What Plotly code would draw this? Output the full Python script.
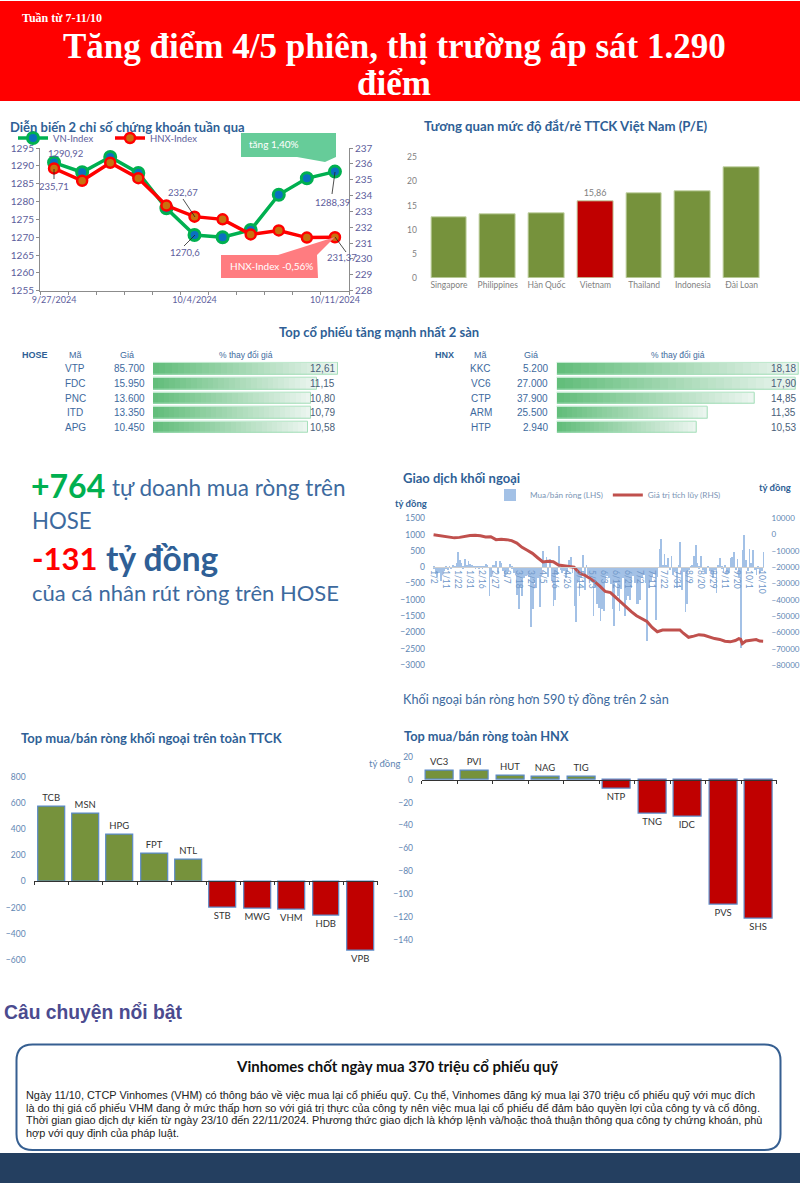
import plotly.graph_objects as go

W, H = 800, 1183

# Fonts
CAL = "Lato, 'Noto Sans', sans-serif"
ARIAL = "'Liberation Sans', Arial, sans-serif"
SERIF = "'Liberation Serif', serif"

BLUE_TITLE = '#2f5f96'
BLUE_TEXT = '#3d6a9e'
AXIS_BLUE = '#5f86b3'

# Index chart data
sessions = ['9/27', '9/30', '10/1', '10/2', '10/3', '10/4', '10/7', '10/8', '10/9', '10/10', '10/11']
session_labels = ['9/27/2024', '', '', '', '', '10/4/2024', '', '', '', '', '10/11/2024']
vn_index = [1290.92, 1288.2, 1292.5, 1288.0, 1278.1, 1270.6, 1270.0, 1272.0, 1281.9, 1286.5, 1288.39]
hnx_index = [235.71, 234.93, 236.07, 235.1, 233.37, 232.67, 232.5, 231.55, 231.8, 231.35, 231.37]

# P/E data
pe_countries = ['Singapore', 'Philippines', 'Hàn Quốc', 'Vietnam', 'Thailand', 'Indonesia', 'Đài Loan']
pe_values = [12.6, 13.2, 13.3, 15.86, 17.6, 18.0, 23.0]
pe_labels = ['', '', '', '15,86', '', '', '']

# Top gainers tables
hose_codes = ['VTP', 'FDC', 'PNC', 'ITD', 'APG']
hose_prices = ['85.700', '15.950', '13.600', '13.350', '10.450']
hose_changes = [12.61, 11.15, 10.80, 10.79, 10.58]
hnx_codes = ['KKC', 'VC6', 'CTP', 'ARM', 'HTP']
hnx_prices = ['5.200', '27.000', '37.900', '25.500', '2.940']
hnx_changes = [18.18, 17.90, 14.85, 11.35, 10.53]

# Foreign flow data, one bar per session
flow_values = [
    -60, -220, -310, -180, -420, -240, -120, -60, -110, -40,
    -70, 60, -30, 130, 450, 220, 130, -50, 230, 60,
    170, 80, 40, -20, -60, -30, -50, -20, -60, -30,
    100, 60, -880, -320, 60, 30, 190, -180, 190, 110,
    -120, -300, -210, -160, 90, -60, -190, -250, -850, -1280,
    -620, -900, -330, -280, -260, -310, -1850, -1300, -480, -660,
    -350, -1230, -280, 500, 120, 310, -310, 230, -420, -1200,
    -1000, -250, 630, -90, -180, -120, -340, -160, 200, 300,
    -200, -1200, -1680, -420, -900, -350, 350, -720, 50, -260,
    -330, -470, -1500, -620, -1150, -1250, -1650, -1300, -1350, -460,
    -280, -340, -520, -1280, -1820, -480, -890, -1350, -670, -340,
    -1500, -1030, -880, -1000, -640, -280, -480, -1150, -1150, -1020,
    -350, -260, -480, -2270, -640, -420, -310, -220, -1620, -320,
    550, 850, 60, 400, 40, 270, -90, 340, -250, -120,
    -650, 30, 750, -700, -150, -1370, -1150, -90, 20, 40,
    320, 680, 120, -60, 320, -80, -120, -210, -40, -140,
    -220, -340, -110, -800, 30, 260, -60, -150, 40, -220,
    -180, 260, 310, 470, -90, 250, -320, -2480, 520, 970,
    220, -120, 560, 130, 520, -90, -240, -60, -180, -120,
    470,
]
flow_tick_pos = [0, 7, 14, 21, 28, 35, 42, 49, 56, 63, 70, 77, 84, 91, 98, 105, 112, 119, 126, 133, 140, 147, 154, 161,
                 168, 175, 182, 189]
flow_tick_text = ['1/2', '1/11', '1/22', '1/31', '2/16', '2/27', '3/7', '3/18', '3/27', '4/5', '4/16', '4/26', '5/14',
                  '5/23', '6/3', '6/12', '6/21', '7/2', '7/11', '7/22', '7/31', '8/9', '8/20', '8/29', '9/11', '9/20',
                  '10/1', '10/10']
cum_sessions = [0, 3, 6, 9, 12, 15, 18, 21, 24, 27, 30, 33, 36, 39, 42, 45, 48, 51, 54, 57, 60, 63, 66, 69, 72, 75, 78,
                81, 84, 87, 90, 93, 96, 99, 102, 105, 108, 111, 114, 117, 120, 123, 126, 129, 132, 135, 138, 142, 144,
                147, 150, 153, 156, 159, 162, 165, 168, 171, 174, 176, 177, 178, 180, 182, 184, 186, 188, 190]
cum_values = [-100, -500, -1200, -1600, -2000, -1700, -1100, -500, -400, -700, -1500, -1300, -3100, -2800, -3100, -3700,
              -5200, -7800, -9600, -11500, -14200, -16800, -16400, -16700, -18700, -19200, -19500, -20000, -23500,
              -24800, -26800, -29000, -31800, -34900, -35600, -38500, -42000, -44300, -47300, -49800, -51800, -53300,
              -57000, -59600, -58600, -58500, -58400, -58500, -60500, -63000, -62300, -61400, -61800, -62800, -63800,
              -64300, -65400, -65800, -65000, -63800, -64200, -66900, -65300, -65000, -64500, -64400, -65300, -65400]

# Top net buy/sell data
market_codes = ['TCB', 'MSN', 'HPG', 'FPT', 'NTL', 'STB', 'MWG', 'VHM', 'HDB', 'VPB']
market_values = [570, 517, 354, 209, 168, -198, -206, -214, -260, -527]
hnx_net_codes = ['VC3', 'PVI', 'HUT', 'NAG', 'TIG', 'NTP', 'TNG', 'IDC', 'PVS', 'SHS']
hnx_net_values = [8, 7.5, 3, 2.5, 2.5, -8, -30, -32, -109, -121]

story_lines = [
    'Ngày 11/10, CTCP Vinhomes (VHM) có thông báo về việc mua lại cổ phiếu quỹ. Cụ thể, Vinhomes đăng ký mua lại 370 triệu cổ phiếu quỹ với mục đích',
    'là do thị giá cổ phiếu VHM đang ở mức thấp hơn so với giá trị thực của công ty nên việc mua lại cổ phiếu để đảm bảo quyền lợi của công ty và cổ đông.',
    'Thời gian giao dịch dự kiến từ ngày 23/10 đến 22/11/2024. Phương thức giao dịch là khớp lệnh và/hoặc thoả thuận thông qua công ty chứng khoán, phù',
    'hợp với quy định của pháp luật.',
]


# Page pixels to paper coordinates
def px(x):
    return x / W


def py(y):
    return 1 - y / H


def dom_x(a, b):
    return [px(a), px(b)]


def dom_y(top, bottom):
    return [py(bottom), py(top)]


annotations = []
shapes = []


def txt(x, y, text, size=10, color=BLUE_TEXT, font=CAL, anchor='left', bold=False):
    annotations.append(dict(
        x=px(x), y=py(y), xref='paper', yref='paper', text=f'<b>{text}</b>' if bold else text,
        showarrow=False, xanchor=anchor, yanchor='middle', borderpad=0,
        font=dict(family=font, size=size, color=color)
    ))


def rect(x0, y0, x1, y1, color):
    shapes.append(dict(type='rect', xref='paper', yref='paper', x0=px(x0), x1=px(x1), y0=py(y0), y1=py(y1),
                       fillcolor=color, line=dict(width=0), layer='below'))


def poly(points, color):
    path = 'M ' + ' L '.join(f'{px(a):.5f} {py(b):.5f}' for a, b in points) + ' Z'
    shapes.append(dict(type='path', xref='paper', yref='paper', path=path, fillcolor=color, line=dict(width=0)))


def leader(x0, y0, x1, y1):
    shapes.append(dict(type='line', xref='paper', yref='paper', x0=px(x0), x1=px(x1), y0=py(y0), y1=py(y1),
                       line=dict(color='#222222', width=0.8)))


fig = go.Figure()

# Index lines
fig.add_trace(go.Scatter(
    x=sessions, y=vn_index, name='VN-Index', mode='lines+markers', xaxis='x', yaxis='y',
    line=dict(color='#00b050', width=3.5),
    marker=dict(size=11, color='#0a70c0', line=dict(color='#00b050', width=3))
))
fig.add_trace(go.Scatter(
    x=sessions, y=hnx_index, name='HNX-Index', mode='lines+markers', xaxis='x', yaxis='y2',
    line=dict(color='#ff0000', width=3.5),
    marker=dict(size=10, color='#c8710f', line=dict(color='#ff0000', width=2.5))
))

# P/E bars
fig.add_trace(go.Bar(
    x=pe_countries, y=pe_values, xaxis='x2', yaxis='y3', width=0.73, showlegend=False,
    marker=dict(color=['#c00000' if c == 'Vietnam' else '#76923c' for c in pe_countries],
                line=dict(color='#c3d3a5', width=1)),
    text=pe_labels, textposition='outside', cliponaxis=False,
    textfont=dict(family=CAL, size=9, color='#7f7f7f')
))


# Data bars with a fading green fill, cut into thin steps along each value
def add_data_bars(codes, changes, xaxis, yaxis, steps=30):
    ys, bases, widths, colors = [], [], [], []
    for code, value in zip(codes, changes):
        for i in range(steps):
            t = i / (steps - 1)
            ys.append(code)
            bases.append(value * i / steps)
            widths.append(value / steps)
            colors.append(f'rgb({int(99 + t * 136)},{int(190 + t * 55)},{int(123 + t * 116)})')
    fig.add_trace(go.Bar(
        y=ys, x=widths, base=bases, orientation='h', xaxis=xaxis, yaxis=yaxis, width=0.8, showlegend=False,
        marker=dict(color=colors, line=dict(width=0))
    ))
    fig.add_trace(go.Bar(
        y=codes, x=changes, orientation='h', xaxis=xaxis, yaxis=yaxis, width=0.8, showlegend=False,
        marker=dict(color='rgba(0,0,0,0)', line=dict(color='#a5dfba', width=1))
    ))


add_data_bars(hose_codes, hose_changes, 'x3', 'y4')
add_data_bars(hnx_codes, hnx_changes, 'x4', 'y5')

# Foreign flows
fig.add_trace(go.Bar(
    x=list(range(len(flow_values))), y=flow_values, name='Mua/bán ròng (LHS)', xaxis='x5', yaxis='y6', width=0.42,
    legend='legend2', marker=dict(color='#a3c1e6', line=dict(width=0))
))
fig.add_trace(go.Scatter(
    x=cum_sessions, y=cum_values, name='Giá trị tích lũy (RHS)', mode='lines', xaxis='x5', yaxis='y7',
    legend='legend2', line=dict(color='#c0504d', width=3)
))

# Top net buy/sell bars
fig.add_trace(go.Bar(
    x=market_codes, y=market_values, xaxis='x6', yaxis='y8', width=0.78, showlegend=False,
    marker=dict(color=['#76923c' if v > 0 else '#c00000' for v in market_values],
                line=dict(color='#5b8ac8', width=1.2)),
    text=market_codes, textposition='outside', cliponaxis=False,
    textfont=dict(family=CAL, size=9.5, color='#333333')
))
fig.add_trace(go.Bar(
    x=hnx_net_codes, y=hnx_net_values, xaxis='x7', yaxis='y9', width=0.78, showlegend=False,
    marker=dict(color=['#76923c' if v > 0 else '#c00000' for v in hnx_net_values],
                line=dict(color='#5b8ac8', width=1.2)),
    text=hnx_net_codes, textposition='outside', cliponaxis=False,
    textfont=dict(family=CAL, size=9.5, color='#333333')
))

# Header and footer blocks
rect(0, 1, 800, 101, '#ff0000')
rect(0, 1153, 800, 1183, '#243f60')
txt(21, 18, 'Tuần từ 7-11/10', size=12, color='white', font=SERIF, bold=True)
txt(394, 46, 'Tăng điểm 4/5 phiên, thị trường áp sát 1.290', size=35, color='white', font=SERIF, anchor='center', bold=True)
txt(394, 83, 'điểm', size=35, color='white', font=SERIF, anchor='center', bold=True)

# Section titles
txt(9, 127, 'Diễn biến 2 chỉ số chứng khoán tuần qua', size=13, color=BLUE_TITLE, bold=True)
txt(423, 126, 'Tương quan mức độ đắt/rẻ TTCK Việt Nam (P/E)', size=13.2, color=BLUE_TITLE, bold=True)
txt(379, 332, 'Top cổ phiếu tăng mạnh nhất 2 sàn', size=13, color=BLUE_TITLE, anchor='center', bold=True)
txt(402, 478, 'Giao dịch khối ngoại', size=13, color=BLUE_TITLE, bold=True)
txt(20, 738, 'Top mua/bán ròng khối ngoại trên toàn TTCK', size=13, color=BLUE_TITLE, bold=True)
txt(403, 736, 'Top mua/bán ròng toàn HNX', size=12.8, color=BLUE_TITLE, bold=True)

# Callouts on the index chart
poly([(241, 133), (336, 133), (336, 157), (325, 162), (297, 157), (241, 157)], '#66cc99')
poly([(221, 255), (278, 255), (335, 237), (317, 255), (318, 278), (221, 278)], '#ff7c80')
txt(248, 144, 'tăng 1,40%', size=10, color='white')
txt(229, 266, 'HNX-Index -0,56%', size=10, color='white')

# Value labels on the index chart
LABEL = '#5d5d9c'
txt(65, 153, '1290,92', size=9.5, color=LABEL, anchor='center')
txt(54, 187, '235,71', size=9.5, color=LABEL, anchor='center')
txt(183, 192, '232,67', size=9.5, color=LABEL, anchor='center')
txt(185, 253, '1270,6', size=9.5, color=LABEL, anchor='center')
txt(332, 202, '1288,39', size=9.5, color=LABEL, anchor='center')
txt(342, 257, '231,37', size=9.5, color=LABEL, anchor='center')
leader(54, 169, 54, 179)
leader(183, 199, 195, 217)
leader(184, 246, 195, 235)
leader(332, 194, 335, 172)
leader(346, 252, 335, 237)

# Table headers
txt(35, 355, 'HOSE', size=9, color=BLUE_TITLE, font=ARIAL, anchor='center', bold=True)
txt(75, 355, 'Mã', size=9, font=ARIAL, anchor='center')
txt(127, 355, 'Giá', size=9, font=ARIAL, anchor='center')
txt(246, 355, '% thay đổi giá', size=8.5, font=ARIAL, anchor='center')
txt(444, 355, 'HNX', size=9, color=BLUE_TITLE, font=ARIAL, anchor='center', bold=True)
txt(481, 355, 'Mã', size=9, font=ARIAL, anchor='center')
txt(531, 355, 'Giá', size=9, font=ARIAL, anchor='center')
txt(678, 355, '% thay đổi giá', size=8.5, font=ARIAL, anchor='center')

# Table rows
for codes, prices, changes, yref, code_x, price_x, value_x in [
    (hose_codes, hose_prices, hose_changes, 'y4', 75, 147, 337),
    (hnx_codes, hnx_prices, hnx_changes, 'y5', 481, 550, 798),
]:
    for code, price, change in zip(codes, prices, changes):
        row_font = dict(family=ARIAL, size=10, color=BLUE_TEXT)
        annotations.append(dict(x=px(code_x), y=code, xref='paper', yref=yref, text=code, showarrow=False,
                                xanchor='center', font=row_font))
        annotations.append(dict(x=px(price_x), y=code, xref='paper', yref=yref, text=price, showarrow=False,
                                xanchor='right', font=row_font))
        annotations.append(dict(x=px(value_x), y=code, xref='paper', yref=yref, text=f'{change:.2f}'.replace('.', ','),
                                showarrow=False, xanchor='right', font=dict(family=ARIAL, size=10, color='#4a5f7a')))

# Big numbers on the left
txt(30, 486, '+764', size=32, color='#00b050', bold=True)
txt(111, 488, 'tự doanh mua ròng trên', size=22.5, color=BLUE_TEXT)
txt(31, 520, 'HOSE', size=22.2, color=BLUE_TEXT)
txt(31, 558, '-131', size=31, color='#ff0000', bold=True)
txt(105, 558, 'tỷ đồng', size=33.5, color=BLUE_TITLE, bold=True)
txt(31, 592, 'của cá nhân rút ròng trên HOSE', size=22, color=BLUE_TEXT)

# Small notes around the flow charts
txt(394, 503, 'tỷ đồng', size=9.5, color=BLUE_TITLE, bold=True)
txt(758, 487, 'tỷ đồng', size=9.5, color=BLUE_TITLE, bold=True)
txt(402, 699, 'Khối ngoại bán ròng hơn 590 tỷ đồng trên 2 sàn', size=12.7, color=BLUE_TEXT)
txt(368, 763, 'tỷ đồng', size=9.5, color=AXIS_BLUE)

# Story box
txt(3, 1012, 'Câu chuyện nổi bật', size=19.3, color='#4b4b8f', font=ARIAL, bold=True)
bx0, bx1, by0, by1, r = 16.5, 780.5, 1044.5, 1150, 16
shapes.append(dict(
    type='path', xref='paper', yref='paper', fillcolor='white', line=dict(color='#365f91', width=2), layer='below',
    path=(f'M {px(bx0 + r)} {py(by0)} L {px(bx1 - r)} {py(by0)} Q {px(bx1)} {py(by0)} {px(bx1)} {py(by0 + r)} '
          f'L {px(bx1)} {py(by1 - r)} Q {px(bx1)} {py(by1)} {px(bx1 - r)} {py(by1)} '
          f'L {px(bx0 + r)} {py(by1)} Q {px(bx0)} {py(by1)} {px(bx0)} {py(by1 - r)} '
          f'L {px(bx0)} {py(by0 + r)} Q {px(bx0)} {py(by0)} {px(bx0 + r)} {py(by0)} Z')
))
txt(397, 1066, 'Vinhomes chốt ngày mua 370 triệu cổ phiếu quỹ', size=15, color='#111111', anchor='center', bold=True)
for line, line_y in zip(story_lines, [1095, 1107.5, 1120, 1133]):
    txt(24.5, line_y, line, size=10.9, color='#222222', font=ARIAL)

hidden = dict(visible=False)
index_tick = dict(family=CAL, size=10, color=LABEL)
mid_axis = dict(showline=True, linecolor='#333333', linewidth=1, ticks='outside', ticklen=3, tickcolor='#333333',
                showticklabels=False, tickson='boundaries', showgrid=False, zeroline=False, anchor='free')

fig.update_layout(
    width=W, height=H, margin=dict(l=0, r=0, t=0, b=0, autoexpand=False),
    paper_bgcolor='white', plot_bgcolor='white', barmode='overlay', bargap=0,
    showlegend=True, hovermode=False, font=dict(family=CAL, size=10),
    annotations=annotations, shapes=shapes,
    legend=dict(orientation='h', x=px(13), y=py(138), xanchor='left', yanchor='middle', bgcolor='rgba(0,0,0,0)',
                font=dict(family=CAL, size=9.5, color=LABEL), itemwidth=30, traceorder='normal',
                entrywidth=52, entrywidthmode='pixels'),
    legend2=dict(orientation='h', x=px(490), y=py(495), xanchor='left', yanchor='middle', bgcolor='rgba(0,0,0,0)',
                 font=dict(family=CAL, size=8.2, color='#7b95b5'), itemwidth=30, traceorder='normal'),
    # Index chart
    xaxis=dict(domain=dom_x(40, 349), anchor='y', type='category', categoryorder='array', categoryarray=sessions,
               range=[-0.5, 10.5], tickmode='array', tickvals=sessions, ticktext=session_labels, tickson='boundaries',
               tickangle=0, showline=True, linecolor='#8c8c8c', ticks='outside', ticklen=3, tickcolor='#8c8c8c',
               showgrid=False, tickfont=dict(family=CAL, size=9, color=LABEL)),
    yaxis=dict(domain=dom_y(148, 290.7), anchor='x', range=[1255, 1295], dtick=5, showline=True, linecolor='#8c8c8c',
               ticks='outside', ticklen=3, tickcolor='#8c8c8c', showgrid=False, zeroline=False, tickfont=index_tick,
               tickformat='d'),
    yaxis2=dict(overlaying='y', side='right', anchor='x', range=[228, 237], dtick=1, showline=True,
                linecolor='#8c8c8c', ticks='outside', ticklen=3, tickcolor='#8c8c8c', showgrid=False, zeroline=False,
                tickfont=index_tick),
    # P/E chart
    xaxis2=dict(domain=dom_x(424.6, 766), anchor='y3', type='category', range=[-0.5, 6.5], showgrid=False,
                showline=False, ticks='', tickfont=dict(family=CAL, size=8.5, color='#7f7f7f')),
    yaxis3=dict(domain=dom_y(157.3, 278), anchor='x2', range=[0, 25], dtick=5, showgrid=False, zeroline=False,
                ticks='outside', ticklen=5, tickcolor='rgba(0,0,0,0)',
                tickfont=dict(family=CAL, size=8.5, color='#7f7f7f')),
    # Gainer tables
    xaxis3=dict(domain=dom_x(153, 338), anchor='y4', range=[0, 12.61], **hidden),
    yaxis4=dict(domain=dom_y(361.7, 434.6), anchor='x3', type='category', categoryorder='array',
                categoryarray=hose_codes, range=[4.5, -0.5], **hidden),
    xaxis4=dict(domain=dom_x(556.7, 799), anchor='y5', range=[0, 18.18], **hidden),
    yaxis5=dict(domain=dom_y(361.7, 434.6), anchor='x4', type='category', categoryorder='array',
                categoryarray=hnx_codes, range=[4.5, -0.5], **hidden),
    # Foreign flow chart
    xaxis5=dict(domain=dom_x(432.7, 764), anchor='free', position=py(567.3), range=[-0.5, 190.5], tickmode='array',
                tickvals=flow_tick_pos, ticktext=flow_tick_text, tickangle=90, showgrid=False, zeroline=False,
                showline=True, linecolor='#d0d0d0', ticks='', tickfont=dict(family=CAL, size=8.5, color='#6f97c9')),
    yaxis6=dict(domain=dom_y(518.3, 665), anchor='x5', range=[-3000, 1500], dtick=500, showgrid=False, zeroline=False,
                ticks='outside', ticklen=5, tickcolor='rgba(0,0,0,0)', tickformat='d',
                tickfont=dict(family=CAL, size=8.5, color=AXIS_BLUE)),
    yaxis7=dict(overlaying='y6', side='right', anchor='x5', range=[-80000, 10000], dtick=10000, showgrid=False,
                zeroline=False, ticks='outside', ticklen=5, tickcolor='rgba(0,0,0,0)', tickformat='d',
                tickfont=dict(family=CAL, size=8, color=AXIS_BLUE)),
    # Top net buy/sell charts
    xaxis6=dict(domain=dom_x(34.3, 377.7), position=py(881.3), type='category', range=[-0.5, 9.5], **mid_axis),
    yaxis8=dict(domain=dom_y(776.7, 960), anchor='x6', range=[-600, 800], dtick=200, showgrid=False, zeroline=False,
                ticks='outside', ticklen=6, tickcolor='rgba(0,0,0,0)', tickformat='d',
                tickfont=dict(family=CAL, size=8.5, color=AXIS_BLUE)),
    xaxis7=dict(domain=dom_x(421.7, 776.7), position=py(780), type='category', range=[-0.5, 9.5], **mid_axis),
    yaxis9=dict(domain=dom_y(756.7, 940), anchor='x7', range=[-140, 20], dtick=20, showgrid=False, zeroline=False,
                ticks='outside', ticklen=6, tickcolor='rgba(0,0,0,0)', tickformat='d',
                tickfont=dict(family=CAL, size=8.5, color=AXIS_BLUE)),
)

fig.write_html("out.html", config={'displayModeBar': False},
               post_script="document.body.style.margin='0';document.body.style.overflow='hidden';")
